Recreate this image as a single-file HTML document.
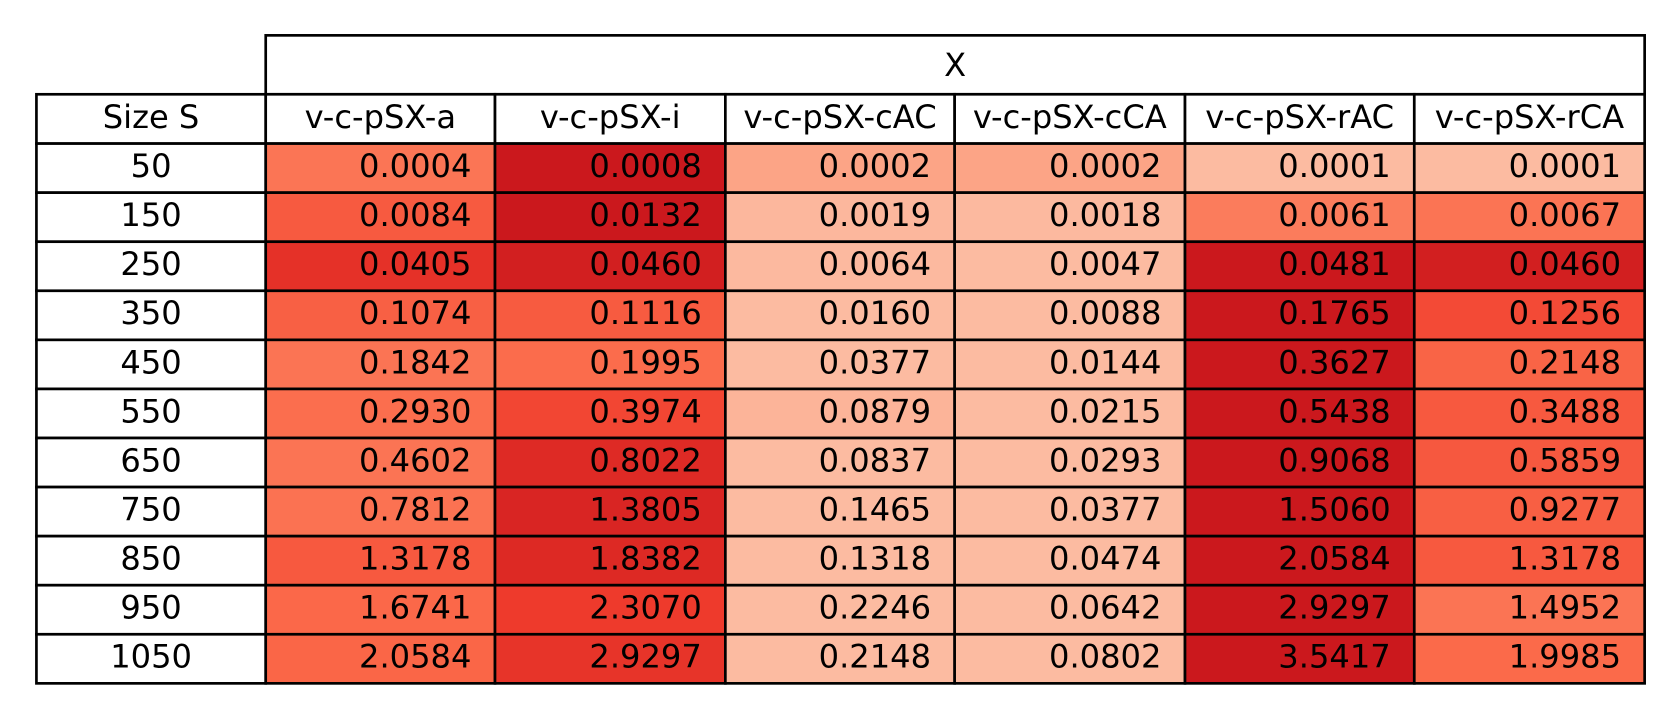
<!DOCTYPE html>
<html><head><meta charset="utf-8">
<style>
html,body{margin:0;padding:0;background:#fff;}
svg{display:block;}
text{font-family:"DejaVu Sans","Liberation Sans",sans-serif;font-size:30px;fill:#000;}
</style></head>
<body>
<svg id="chart" width="1680" height="720" viewBox="0 0 1568 672" xmlns="http://www.w3.org/2000/svg">
<rect width="1568" height="672" fill="#fff"/>
</svg>
<script>
const columns = ["v-c-pSX-a","v-c-pSX-i","v-c-pSX-cAC","v-c-pSX-cCA","v-c-pSX-rAC","v-c-pSX-rCA"];
const sizes = ["50","150","250","350","450","550","650","750","850","950","1050"];
const colA   = [0.0004,0.0084,0.0405,0.1074,0.1842,0.2930,0.4602,0.7812,1.3178,1.6741,2.0584];
const colI   = [0.0008,0.0132,0.0460,0.1116,0.1995,0.3974,0.8022,1.3805,1.8382,2.3070,2.9297];
const colCAC = [0.0002,0.0019,0.0064,0.0160,0.0377,0.0879,0.0837,0.1465,0.1318,0.2246,0.2148];
const colCCA = [0.0002,0.0018,0.0047,0.0088,0.0144,0.0215,0.0293,0.0377,0.0474,0.0642,0.0802];
const colRAC = [0.0001,0.0061,0.0481,0.1765,0.3627,0.5438,0.9068,1.5060,2.0584,2.9297,3.5417];
const colRCA = [0.0001,0.0067,0.0460,0.1256,0.2148,0.3488,0.5859,0.9277,1.3178,1.4952,1.9985];
const series = [colA,colI,colCAC,colCCA,colRAC,colRCA];

const svg = document.getElementById('chart');
const NS = "http://www.w3.org/2000/svg";
const xEdges = [34,248,462,677,891,1106,1320,1535];
const topY = 33, headY = 88, rowY0 = 134, rowH = 45.8;

const stops = ["#fff5f0","#fee0d2","#fcbba1","#fc9272","#fb6a4a","#ef3b2c","#cb181d","#a50f15","#67000d"];
function hex(h){return [1,3,5].map(i=>parseInt(h.substr(i,2),16));}
function reds(t){
  t=Math.max(0,Math.min(1,t));
  const p=t*8, i=Math.min(7,Math.floor(p)), f=p-i;
  const a=hex(stops[i]), b=hex(stops[i+1]);
  return "rgb("+a.map((v,k)=>Math.round(v+(b[k]-v)*f)).join(",")+")";
}
function colorFor(v,rowMax){
  const r=v/rowMax;
  return reds(Math.max(0.25, 0.25+(r-0.125)*0.5/0.875));
}
function rect(x,y,w,h,fill,name){
  const e=document.createElementNS(NS,'rect');
  e.setAttribute('x',x);e.setAttribute('y',y);e.setAttribute('width',w);e.setAttribute('height',h);
  e.setAttribute('fill',fill);e.setAttribute('stroke','#000');e.setAttribute('stroke-width','2.5');
  
  
  svg.appendChild(e);return e;
}
function text(x,y,s,anchor,name){
  const e=document.createElementNS(NS,'text');
  e.setAttribute('x',x);e.setAttribute('y',y);e.setAttribute('text-anchor',anchor);
  e.setAttribute('dominant-baseline','central');
  e.textContent=s;
  
  
  svg.appendChild(e);return e;
}
rect(xEdges[1],topY,xEdges[7]-xEdges[1],headY-topY,'#fff','x-header-cell');
text((xEdges[1]+xEdges[7])/2,(topY+headY)/2,'X','middle','x-header-label');
rect(xEdges[0],headY,xEdges[1]-xEdges[0],rowY0-headY,'#fff','size-header-cell');
text((xEdges[0]+xEdges[1])/2,(headY+rowY0)/2-2,'Size S','middle','size-header-label');
columns.forEach((c,j)=>{
  rect(xEdges[j+1],headY,xEdges[j+2]-xEdges[j+1],rowY0-headY,'#fff','column-header-cell');
  text((xEdges[j+1]+xEdges[j+2])/2,(headY+rowY0)/2-2,c,'middle','column-header-label');
});
sizes.forEach((s,i)=>{
  const y=rowY0+i*rowH;
  rect(xEdges[0],y,xEdges[1]-xEdges[0],rowH,'#fff','row-label-cell');
  text((xEdges[0]+xEdges[1])/2,y+rowH/2-2,s,'middle','row-label');
  const rowMax=Math.max(...series.map(a=>a[i]));
  series.forEach((arr,j)=>{
    const v=arr[i];
    rect(xEdges[j+1],y,xEdges[j+2]-xEdges[j+1],rowH,colorFor(v,rowMax),'heatmap-cell');
    text(xEdges[j+2]-22,y+rowH/2-2,v.toFixed(4),'end','cell-value');
  });
});
</script>
</body></html>
